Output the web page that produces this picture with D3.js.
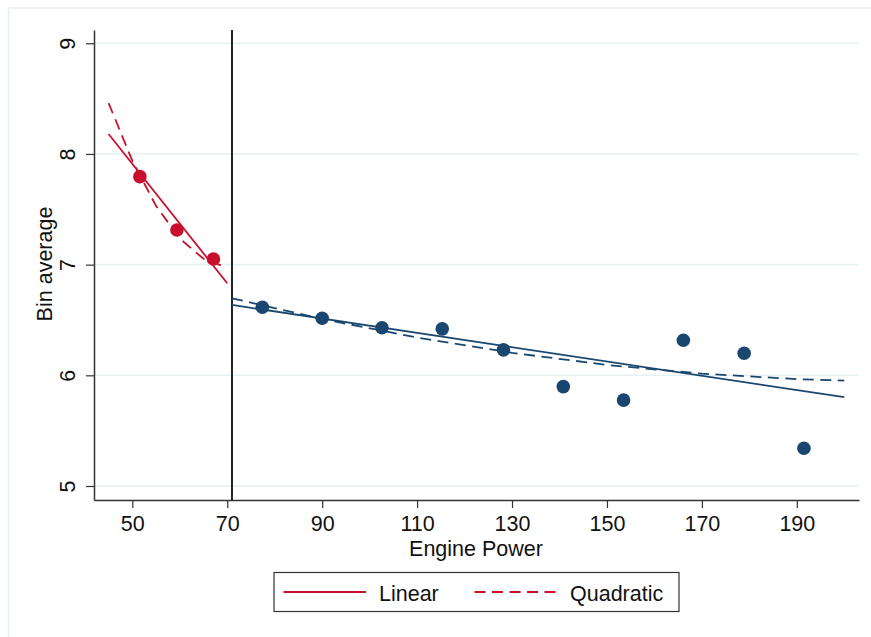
<!DOCTYPE html>
<html>
<head>
<meta charset="utf-8">
<script src="https://cdn.jsdelivr.net/npm/d3@7"></script>
<style>
  body { margin: 0; background: #fff; }
  text { font-family: "Liberation Sans", Arial, Helvetica, sans-serif; }
</style>
</head>
<body>
<svg id="chart" width="871" height="637"></svg>
<script>
const width = 871;
const height = 637;

// bin averages, left and right of the cutoff
const leftX = [51.6, 59.4, 67.1];
const leftY = [7.795, 7.313, 7.051];
const rightX = [77.4, 90.0, 102.6, 115.3, 128.2, 140.8, 153.5, 166.1, 178.9, 191.5];
const rightY = [6.615, 6.516, 6.43, 6.42, 6.23, 5.898, 5.776, 6.317, 6.20, 5.341];

// fitted lines
const leftLinX = [45, 70];
const leftLinY = [8.18, 6.832];
const leftQuadX = [45, 50, 55, 60, 65, 69];
const leftQuadY = [8.46, 7.939, 7.531, 7.236, 7.053, 6.988];
const rightLinX = [71, 200];
const rightLinY = [6.636, 5.802];
const rightQuadX = [71, 90, 110, 130, 150, 170, 190, 200];
const rightQuadY = [6.696, 6.509, 6.341, 6.203, 6.094, 6.015, 5.966, 5.952];

const cutoff = 71;
const xTicks = [50, 70, 90, 110, 130, 150, 170, 190];
const yTicks = [5, 6, 7, 8, 9];

const red = "#c8102e";
const navy = "#1a476f";
const grid = "#e6eff2";
const ink = "#333";
const dash = "11,6.5";

const svg = d3.select("#chart");

// outer frame (cut off on right and bottom)
svg.append("rect")
  .attr("x", 8.5).attr("y", 8)
  .attr("width", 880).attr("height", 660)
  .attr("fill", "none")
  .attr("stroke", "#e6eff2")
  .attr("stroke-width", 1.5);

const plot = { left: 94, right: 859, top: 30, bottom: 500 };

const x = d3.scaleLinear().domain([41.93, 203.1]).range([plot.left, plot.right]);
const y = d3.scaleLinear().domain([4.8735, 9.12]).range([plot.bottom, plot.top]);

// grid
svg.append("g")
  .selectAll("line")
  .data(yTicks)
  .enter()
  .append("line")
  .attr("x1", plot.left).attr("x2", plot.right)
  .attr("y1", d => y(d)).attr("y2", d => y(d))
  .attr("stroke", grid)
  .attr("stroke-width", 1.6);

// axes
const xAxis = svg.append("g")
  .attr("transform", `translate(0,${plot.bottom})`)
  .call(d3.axisBottom(x).tickValues(xTicks).tickFormat(d3.format("d"))
    .tickSize(8).tickPadding(7).tickSizeOuter(0));

const yAxis = svg.append("g")
  .attr("transform", `translate(${plot.left},0)`)
  .call(d3.axisLeft(y).tickValues(yTicks).tickFormat(d3.format("d"))
    .tickSize(8).tickSizeOuter(0));

[xAxis, yAxis].forEach(a => {
  a.select(".domain").attr("stroke", ink).attr("stroke-width", 1.5);
  a.selectAll(".tick line").attr("stroke", ink).attr("stroke-width", 1.2);
  a.selectAll("text").attr("fill", "#111").style("font-size", "21.5px")
    .style("font-family", '"Liberation Sans", Arial, sans-serif');
});

xAxis.selectAll(".tick text").attr("dy", null).attr("y", 0)
  .attr("transform", "translate(0,30.5)");

// y labels rotated, reading bottom to top
yAxis.selectAll(".tick text")
  .attr("x", null).attr("dy", null)
  .attr("text-anchor", "middle")
  .attr("transform", "translate(-19,0) rotate(-90)");

// axis titles
svg.append("text")
  .attr("x", (plot.left + plot.right) / 2 - 0.5)
  .attr("y", 556)
  .attr("text-anchor", "middle")
  .style("font-size", "21.5px")
  .attr("fill", "#111")
  .text("Engine Power");

svg.append("text")
  .attr("transform", `translate(52,264) rotate(-90)`)
  .attr("text-anchor", "middle")
  .style("font-size", "21.5px")
  .attr("fill", "#111")
  .text("Bin average");

// cutoff line
svg.append("line")
  .attr("x1", x(cutoff)).attr("x2", x(cutoff))
  .attr("y1", plot.top).attr("y2", plot.bottom)
  .attr("stroke", "#222")
  .attr("stroke-width", 2);

const line = d3.line().x(d => x(d[0])).y(d => y(d[1]));
const zip = (a, b) => a.map((v, i) => [v, b[i]]);

function drawFit(xs, ys, color, dashed) {
  svg.append("path")
    .datum(zip(xs, ys))
    .attr("d", line)
    .attr("fill", "none")
    .attr("stroke", color)
    .attr("stroke-width", 1.8)
    .attr("stroke-dasharray", dashed ? dash : null);
}

drawFit(leftLinX, leftLinY, red, false);
drawFit(leftQuadX, leftQuadY, red, true);
drawFit(rightLinX, rightLinY, navy, false);
drawFit(rightQuadX, rightQuadY, navy, true);

svg.append("g")
  .selectAll("circle")
  .data(zip(leftX, leftY))
  .enter()
  .append("circle")
  .attr("cx", d => x(d[0])).attr("cy", d => y(d[1]))
  .attr("r", 6.8)
  .attr("fill", red);

svg.append("g")
  .selectAll("circle")
  .data(zip(rightX, rightY))
  .enter()
  .append("circle")
  .attr("cx", d => x(d[0])).attr("cy", d => y(d[1]))
  .attr("r", 6.8)
  .attr("fill", navy);

// legend
const legend = svg.append("g");
legend.append("rect")
  .attr("x", 274).attr("y", 572.5)
  .attr("width", 405).attr("height", 39)
  .attr("fill", "#fff")
  .attr("stroke", ink)
  .attr("stroke-width", 1.2);

const legendItems = [
  { label: "Linear", dash: null, x0: 283.5, tx: 379 },
  { label: "Quadratic", dash: dash, x0: 474.5, tx: 570 }
];

legendItems.forEach(it => {
  legend.append("line")
    .attr("x1", it.x0).attr("x2", it.x0 + 82.5)
    .attr("y1", 592).attr("y2", 592)
    .attr("stroke", red)
    .attr("stroke-width", 1.8)
    .attr("stroke-dasharray", it.dash);
  legend.append("text")
    .attr("x", it.tx).attr("y", 600.5)
    .style("font-size", "21.5px")
    .attr("fill", "#111")
    .text(it.label);
});
</script>
</body>
</html>
